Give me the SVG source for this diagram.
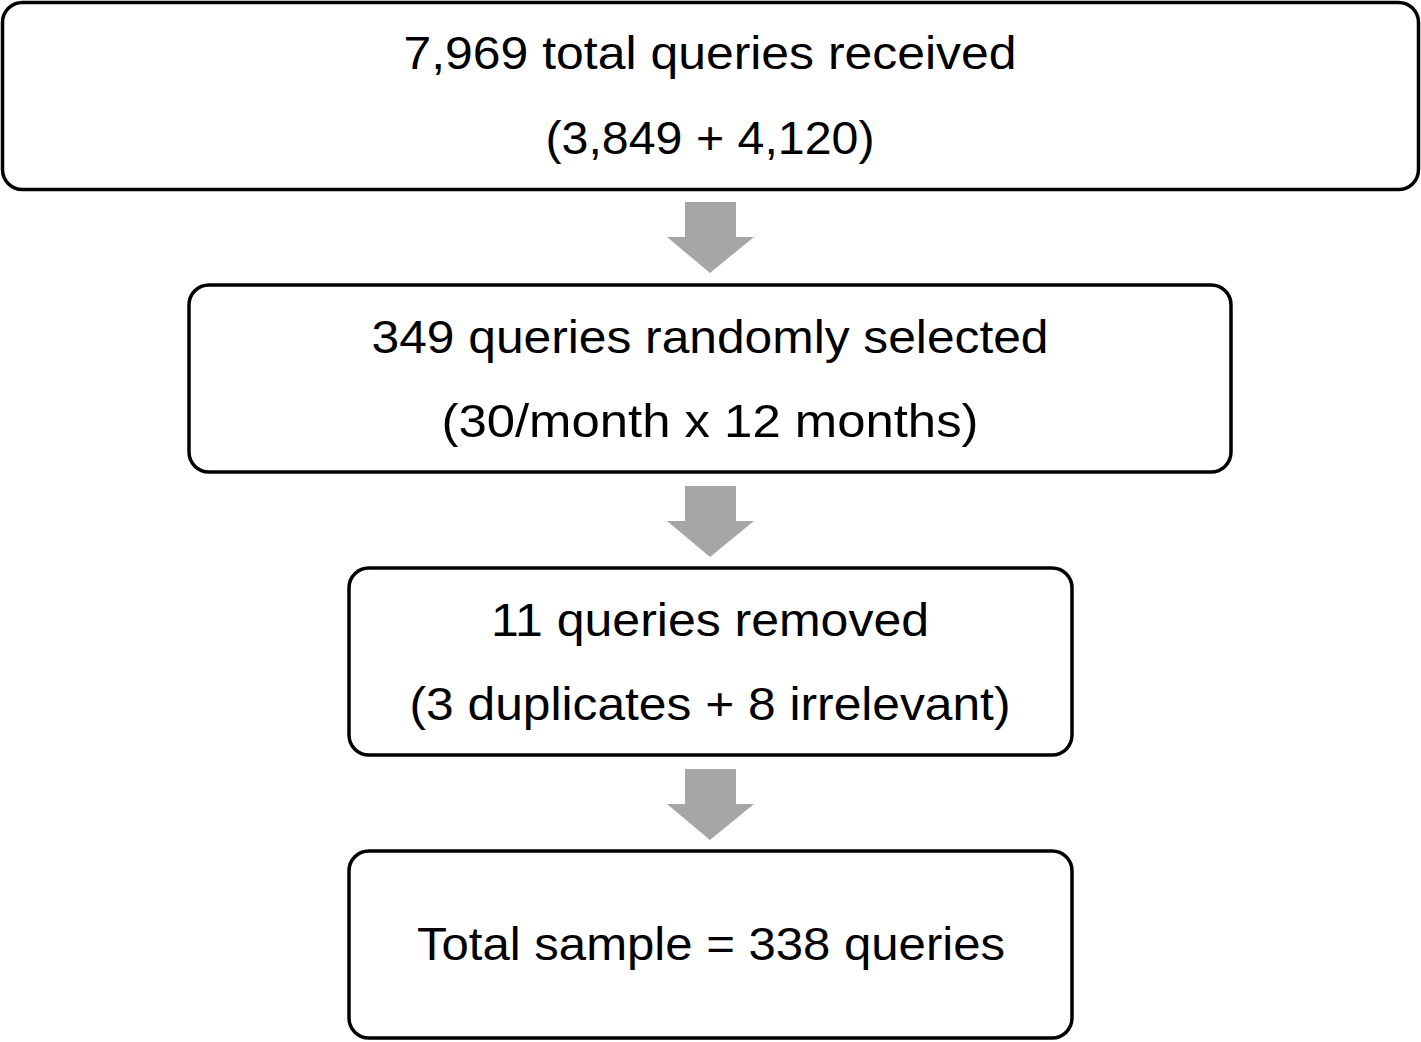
<svg xmlns="http://www.w3.org/2000/svg" width="1421" height="1042" viewBox="0 0 1421 1042">
<style>
.box{fill:#fff;stroke:#000;stroke-width:3.5}
.t{font-family:"Liberation Sans",Arial,sans-serif;font-size:46px;fill:#000;text-anchor:middle}
.arr{fill:#a6a6a6}
</style>
<rect width="1421" height="1042" fill="#fff"/>
<g id="connectors">
<polygon class="arr" points="685,202 736,202 736,237 754,237 710,273 667,237 685,237"/>
<polygon class="arr" points="685,486 736,486 736,521 754,521 710,557 667,521 685,521"/>
<polygon class="arr" points="685,769 736,769 736,804 754,804 710,840 667,804 685,804"/>
</g>
<g id="node1">
<rect class="box" x="2.5" y="2.5" width="1416" height="187" rx="20"/>
<text class="t" x="710" y="69" textLength="613" lengthAdjust="spacingAndGlyphs">7,969 total queries received</text>
<text class="t" x="710" y="154" textLength="329" lengthAdjust="spacingAndGlyphs">(3,849 + 4,120)</text>
</g>
<g id="node2">
<rect class="box" x="189" y="285" width="1042" height="187" rx="20"/>
<text class="t" x="710" y="353" textLength="677" lengthAdjust="spacingAndGlyphs">349 queries randomly selected</text>
<text class="t" x="710" y="437" textLength="537" lengthAdjust="spacingAndGlyphs">(30/month x 12 months)</text>
</g>
<g id="node3">
<rect class="box" x="349" y="568" width="723" height="187" rx="20"/>
<text class="t" x="710" y="636" textLength="438" lengthAdjust="spacingAndGlyphs">11 queries removed</text>
<text class="t" x="710" y="720" textLength="601" lengthAdjust="spacingAndGlyphs">(3 duplicates + 8 irrelevant)</text>
</g>
<g id="node4">
<rect class="box" x="349" y="851" width="723" height="187" rx="20"/>
<text class="t" x="711" y="960" textLength="588" lengthAdjust="spacingAndGlyphs">Total sample = 338 queries</text>
</g>
</svg>
